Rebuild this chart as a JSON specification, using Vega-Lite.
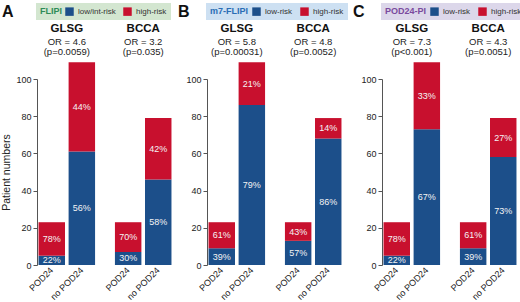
{
  "$schema": "https://vega.github.io/schema/vega-lite/v6.json",
  "padding": {"left": 1, "top": 3, "right": 0, "bottom": 0},
  "background": "white",
  "config": {
    "font": "Liberation Sans",
    "view": {"stroke": null},
    "concat": {"spacing": 4},
    "axisY": {"grid": false, "domainColor": "#555", "tickColor": "#555", "labelFontSize": 9, "labelColor": "#222", "tickSize": 4, "labelPadding": 2, "titleFontSize": 10.5, "titleFontWeight": "normal", "titleColor": "#222", "titlePadding": 4, "values": [0, 20, 40, 60, 80, 100]},
    "legend": {"orient": "none", "legendX": -1, "legendY": -76, "direction": "horizontal", "titleOrient": "left", "padding": 4, "symbolType": "square", "symbolSize": 72, "symbolStrokeWidth": 0, "labelFontSize": 8, "labelColor": "#333", "titleFontSize": 9, "titleFontWeight": "bold", "columnPadding": 7, "titlePadding": 3, "labelOffset": 4},
    "title": {"anchor": "start", "frame": "bounds", "fontSize": 16, "fontWeight": "bold", "color": "#111", "offset": 0, "dy": 21}
  },
  "datasets": {
    "bars": [
      {"panel": "A", "group": "GLSG", "status": "POD24", "risk": "low/int-risk", "rk": 1, "n": 5, "pct": "22%"},
      {"panel": "A", "group": "GLSG", "status": "POD24", "risk": "high-risk", "rk": 2, "n": 18, "pct": "78%"},
      {"panel": "A", "group": "GLSG", "status": "no POD24", "risk": "low/int-risk", "rk": 1, "n": 61, "pct": "56%"},
      {"panel": "A", "group": "GLSG", "status": "no POD24", "risk": "high-risk", "rk": 2, "n": 48, "pct": "44%"},
      {"panel": "A", "group": "BCCA", "status": "POD24", "risk": "low/int-risk", "rk": 1, "n": 7, "pct": "30%"},
      {"panel": "A", "group": "BCCA", "status": "POD24", "risk": "high-risk", "rk": 2, "n": 16, "pct": "70%"},
      {"panel": "A", "group": "BCCA", "status": "no POD24", "risk": "low/int-risk", "rk": 1, "n": 46, "pct": "58%"},
      {"panel": "A", "group": "BCCA", "status": "no POD24", "risk": "high-risk", "rk": 2, "n": 33, "pct": "42%"},
      {"panel": "B", "group": "GLSG", "status": "POD24", "risk": "low-risk", "rk": 1, "n": 9, "pct": "39%"},
      {"panel": "B", "group": "GLSG", "status": "POD24", "risk": "high-risk", "rk": 2, "n": 14, "pct": "61%"},
      {"panel": "B", "group": "GLSG", "status": "no POD24", "risk": "low-risk", "rk": 1, "n": 86, "pct": "79%"},
      {"panel": "B", "group": "GLSG", "status": "no POD24", "risk": "high-risk", "rk": 2, "n": 23, "pct": "21%"},
      {"panel": "B", "group": "BCCA", "status": "POD24", "risk": "low-risk", "rk": 1, "n": 13, "pct": "57%"},
      {"panel": "B", "group": "BCCA", "status": "POD24", "risk": "high-risk", "rk": 2, "n": 10, "pct": "43%"},
      {"panel": "B", "group": "BCCA", "status": "no POD24", "risk": "low-risk", "rk": 1, "n": 68, "pct": "86%"},
      {"panel": "B", "group": "BCCA", "status": "no POD24", "risk": "high-risk", "rk": 2, "n": 11, "pct": "14%"},
      {"panel": "C", "group": "GLSG", "status": "POD24", "risk": "low-risk", "rk": 1, "n": 5, "pct": "22%"},
      {"panel": "C", "group": "GLSG", "status": "POD24", "risk": "high-risk", "rk": 2, "n": 18, "pct": "78%"},
      {"panel": "C", "group": "GLSG", "status": "no POD24", "risk": "low-risk", "rk": 1, "n": 73, "pct": "67%"},
      {"panel": "C", "group": "GLSG", "status": "no POD24", "risk": "high-risk", "rk": 2, "n": 36, "pct": "33%"},
      {"panel": "C", "group": "BCCA", "status": "POD24", "risk": "low-risk", "rk": 1, "n": 9, "pct": "39%"},
      {"panel": "C", "group": "BCCA", "status": "POD24", "risk": "high-risk", "rk": 2, "n": 14, "pct": "61%"},
      {"panel": "C", "group": "BCCA", "status": "no POD24", "risk": "low-risk", "rk": 1, "n": 58, "pct": "73%"},
      {"panel": "C", "group": "BCCA", "status": "no POD24", "risk": "high-risk", "rk": 2, "n": 21, "pct": "27%"}
    ],
    "heads": [
      {"panel": "A", "group": "GLSG", "or": "OR = 4.6", "p": "(p=0.0059)"},
      {"panel": "A", "group": "BCCA", "or": "OR = 3.2", "p": "(p=0.035)"},
      {"panel": "B", "group": "GLSG", "or": "OR = 5.8", "p": "(p=0.00031)"},
      {"panel": "B", "group": "BCCA", "or": "OR = 4.8", "p": "(p=0.0052)"},
      {"panel": "C", "group": "GLSG", "or": "OR = 7.3", "p": "(p<0.001)"},
      {"panel": "C", "group": "BCCA", "or": "OR = 4.3", "p": "(p=0.0051)"}
    ]
  },
  "resolve": {"scale": {"color": "independent", "y": "independent", "x": "independent", "xOffset": "independent"}, "legend": {"color": "independent"}},
  "hconcat": [
    {
      "width": 136, "height": 186,
      "title": {"text": "A"},
      "layer": [
        {
          "data": {"name": "bars"},
          "transform": [{"filter": "datum.panel === 'A'"}],
          "mark": {"type": "bar"},
          "encoding": {
            "x": {"field": "group", "type": "nominal", "sort": ["GLSG", "BCCA"], "scale": {"paddingInner": 0.26, "paddingOuter": 0.02}, "axis": null},
            "xOffset": {"field": "status", "type": "nominal", "sort": ["POD24", "no POD24"], "scale": {"paddingInner": 0.12, "paddingOuter": 0}},
            "y": {"field": "n", "type": "quantitative", "stack": "zero", "scale": {"domain": [0, 100], "nice": false}, "axis": {"title": "Patient numbers"}},
            "color": {"field": "risk", "type": "nominal", "scale": {"domain": ["low/int-risk", "high-risk"], "range": ["#1c4f8a", "#c8102e"]}, "legend": {"title": "FLIPI", "titleColor": "#2e8b57", "fillColor": "#d3e6d0"}},
            "order": {"field": "rk"}
          }
        },
        {
          "data": {"name": "bars"},
          "transform": [{"filter": "datum.panel === 'A'"}, {"stack": "n", "groupby": ["group", "status"], "sort": [{"field": "rk"}], "as": ["y0", "y1"]}, {"calculate": "(datum.y0 + datum.y1) / 2", "as": "ym"}],
          "mark": {"type": "text", "fontSize": 9, "color": "#f4f4f4", "baseline": "middle"},
          "encoding": {
            "x": {"field": "group", "type": "nominal", "sort": ["GLSG", "BCCA"]},
            "xOffset": {"field": "status", "type": "nominal", "sort": ["POD24", "no POD24"]},
            "y": {"field": "ym", "type": "quantitative", "scale": {"domain": [0, 100], "nice": false}},
            "text": {"field": "pct"}
          }
        },
        {
          "data": {"name": "bars"},
          "transform": [{"filter": "datum.panel === 'A' && datum.rk === 1"}],
          "mark": {"type": "text", "fontSize": 9, "color": "#222", "angle": 315, "align": "right", "baseline": "middle"},
          "encoding": {
            "x": {"field": "group", "type": "nominal", "sort": ["GLSG", "BCCA"]},
            "xOffset": {"field": "status", "type": "nominal", "sort": ["POD24", "no POD24"]},
            "y": {"datum": -2, "type": "quantitative", "scale": {"domain": [0, 100], "nice": false}},
            "text": {"field": "status"}
          }
        },
        {
          "data": {"name": "heads"},
          "transform": [{"filter": "datum.panel === 'A'"}],
          "mark": {"type": "text", "fontSize": 11.5, "fontWeight": "bold", "color": "#111", "baseline": "middle"},
          "encoding": {
            "x": {"field": "group", "type": "nominal", "sort": ["GLSG", "BCCA"]},
            "y": {"datum": 127, "type": "quantitative", "scale": {"domain": [0, 100], "nice": false}},
            "text": {"field": "group"}
          }
        },
        {
          "data": {"name": "heads"},
          "transform": [{"filter": "datum.panel === 'A'"}],
          "mark": {"type": "text", "fontSize": 9.5, "color": "#222", "baseline": "middle"},
          "encoding": {
            "x": {"field": "group", "type": "nominal", "sort": ["GLSG", "BCCA"]},
            "y": {"datum": 120, "type": "quantitative", "scale": {"domain": [0, 100], "nice": false}},
            "text": {"field": "or"}
          }
        },
        {
          "data": {"name": "heads"},
          "transform": [{"filter": "datum.panel === 'A'"}],
          "mark": {"type": "text", "fontSize": 9.5, "color": "#222", "baseline": "middle"},
          "encoding": {
            "x": {"field": "group", "type": "nominal", "sort": ["GLSG", "BCCA"]},
            "y": {"datum": 114.5, "type": "quantitative", "scale": {"domain": [0, 100], "nice": false}},
            "text": {"field": "p"}
          }
        }
      ]
    },
    {
      "width": 136, "height": 186,
      "title": {"text": "B", "dx": -8},
      "layer": [
        {
          "data": {"name": "bars"},
          "transform": [{"filter": "datum.panel === 'B'"}],
          "mark": {"type": "bar"},
          "encoding": {
            "x": {"field": "group", "type": "nominal", "sort": ["GLSG", "BCCA"], "scale": {"paddingInner": 0.26, "paddingOuter": 0.02}, "axis": null},
            "xOffset": {"field": "status", "type": "nominal", "sort": ["POD24", "no POD24"], "scale": {"paddingInner": 0.12, "paddingOuter": 0}},
            "y": {"field": "n", "type": "quantitative", "stack": "zero", "scale": {"domain": [0, 100], "nice": false}, "axis": {"title": null}},
            "color": {"field": "risk", "type": "nominal", "scale": {"domain": ["low-risk", "high-risk"], "range": ["#1c4f8a", "#c8102e"]}, "legend": {"title": "m7-FLIPI", "titleColor": "#2a6db5", "fillColor": "#cde0f2"}},
            "order": {"field": "rk"}
          }
        },
        {
          "data": {"name": "bars"},
          "transform": [{"filter": "datum.panel === 'B'"}, {"stack": "n", "groupby": ["group", "status"], "sort": [{"field": "rk"}], "as": ["y0", "y1"]}, {"calculate": "(datum.y0 + datum.y1) / 2", "as": "ym"}],
          "mark": {"type": "text", "fontSize": 9, "color": "#f4f4f4", "baseline": "middle"},
          "encoding": {
            "x": {"field": "group", "type": "nominal", "sort": ["GLSG", "BCCA"]},
            "xOffset": {"field": "status", "type": "nominal", "sort": ["POD24", "no POD24"]},
            "y": {"field": "ym", "type": "quantitative", "scale": {"domain": [0, 100], "nice": false}},
            "text": {"field": "pct"}
          }
        },
        {
          "data": {"name": "bars"},
          "transform": [{"filter": "datum.panel === 'B' && datum.rk === 1"}],
          "mark": {"type": "text", "fontSize": 9, "color": "#222", "angle": 315, "align": "right", "baseline": "middle"},
          "encoding": {
            "x": {"field": "group", "type": "nominal", "sort": ["GLSG", "BCCA"]},
            "xOffset": {"field": "status", "type": "nominal", "sort": ["POD24", "no POD24"]},
            "y": {"datum": -2, "type": "quantitative", "scale": {"domain": [0, 100], "nice": false}},
            "text": {"field": "status"}
          }
        },
        {
          "data": {"name": "heads"},
          "transform": [{"filter": "datum.panel === 'B'"}],
          "mark": {"type": "text", "fontSize": 11.5, "fontWeight": "bold", "color": "#111", "baseline": "middle"},
          "encoding": {
            "x": {"field": "group", "type": "nominal", "sort": ["GLSG", "BCCA"]},
            "y": {"datum": 127, "type": "quantitative", "scale": {"domain": [0, 100], "nice": false}},
            "text": {"field": "group"}
          }
        },
        {
          "data": {"name": "heads"},
          "transform": [{"filter": "datum.panel === 'B'"}],
          "mark": {"type": "text", "fontSize": 9.5, "color": "#222", "baseline": "middle"},
          "encoding": {
            "x": {"field": "group", "type": "nominal", "sort": ["GLSG", "BCCA"]},
            "y": {"datum": 120, "type": "quantitative", "scale": {"domain": [0, 100], "nice": false}},
            "text": {"field": "or"}
          }
        },
        {
          "data": {"name": "heads"},
          "transform": [{"filter": "datum.panel === 'B'"}],
          "mark": {"type": "text", "fontSize": 9.5, "color": "#222", "baseline": "middle"},
          "encoding": {
            "x": {"field": "group", "type": "nominal", "sort": ["GLSG", "BCCA"]},
            "y": {"datum": 114.5, "type": "quantitative", "scale": {"domain": [0, 100], "nice": false}},
            "text": {"field": "p"}
          }
        }
      ]
    },
    {
      "width": 136, "height": 186,
      "title": {"text": "C", "dx": -8},
      "layer": [
        {
          "data": {"name": "bars"},
          "transform": [{"filter": "datum.panel === 'C'"}],
          "mark": {"type": "bar"},
          "encoding": {
            "x": {"field": "group", "type": "nominal", "sort": ["GLSG", "BCCA"], "scale": {"paddingInner": 0.26, "paddingOuter": 0.02}, "axis": null},
            "xOffset": {"field": "status", "type": "nominal", "sort": ["POD24", "no POD24"], "scale": {"paddingInner": 0.12, "paddingOuter": 0}},
            "y": {"field": "n", "type": "quantitative", "stack": "zero", "scale": {"domain": [0, 100], "nice": false}, "axis": {"title": null}},
            "color": {"field": "risk", "type": "nominal", "scale": {"domain": ["low-risk", "high-risk"], "range": ["#1c4f8a", "#c8102e"]}, "legend": {"title": "POD24-PI", "titleColor": "#7a4a9e", "fillColor": "#dcd7ea"}},
            "order": {"field": "rk"}
          }
        },
        {
          "data": {"name": "bars"},
          "transform": [{"filter": "datum.panel === 'C'"}, {"stack": "n", "groupby": ["group", "status"], "sort": [{"field": "rk"}], "as": ["y0", "y1"]}, {"calculate": "(datum.y0 + datum.y1) / 2", "as": "ym"}],
          "mark": {"type": "text", "fontSize": 9, "color": "#f4f4f4", "baseline": "middle"},
          "encoding": {
            "x": {"field": "group", "type": "nominal", "sort": ["GLSG", "BCCA"]},
            "xOffset": {"field": "status", "type": "nominal", "sort": ["POD24", "no POD24"]},
            "y": {"field": "ym", "type": "quantitative", "scale": {"domain": [0, 100], "nice": false}},
            "text": {"field": "pct"}
          }
        },
        {
          "data": {"name": "bars"},
          "transform": [{"filter": "datum.panel === 'C' && datum.rk === 1"}],
          "mark": {"type": "text", "fontSize": 9, "color": "#222", "angle": 315, "align": "right", "baseline": "middle"},
          "encoding": {
            "x": {"field": "group", "type": "nominal", "sort": ["GLSG", "BCCA"]},
            "xOffset": {"field": "status", "type": "nominal", "sort": ["POD24", "no POD24"]},
            "y": {"datum": -2, "type": "quantitative", "scale": {"domain": [0, 100], "nice": false}},
            "text": {"field": "status"}
          }
        },
        {
          "data": {"name": "heads"},
          "transform": [{"filter": "datum.panel === 'C'"}],
          "mark": {"type": "text", "fontSize": 11.5, "fontWeight": "bold", "color": "#111", "baseline": "middle"},
          "encoding": {
            "x": {"field": "group", "type": "nominal", "sort": ["GLSG", "BCCA"]},
            "y": {"datum": 127, "type": "quantitative", "scale": {"domain": [0, 100], "nice": false}},
            "text": {"field": "group"}
          }
        },
        {
          "data": {"name": "heads"},
          "transform": [{"filter": "datum.panel === 'C'"}],
          "mark": {"type": "text", "fontSize": 9.5, "color": "#222", "baseline": "middle"},
          "encoding": {
            "x": {"field": "group", "type": "nominal", "sort": ["GLSG", "BCCA"]},
            "y": {"datum": 120, "type": "quantitative", "scale": {"domain": [0, 100], "nice": false}},
            "text": {"field": "or"}
          }
        },
        {
          "data": {"name": "heads"},
          "transform": [{"filter": "datum.panel === 'C'"}],
          "mark": {"type": "text", "fontSize": 9.5, "color": "#222", "baseline": "middle"},
          "encoding": {
            "x": {"field": "group", "type": "nominal", "sort": ["GLSG", "BCCA"]},
            "y": {"datum": 114.5, "type": "quantitative", "scale": {"domain": [0, 100], "nice": false}},
            "text": {"field": "p"}
          }
        }
      ]
    }
  ]
}
